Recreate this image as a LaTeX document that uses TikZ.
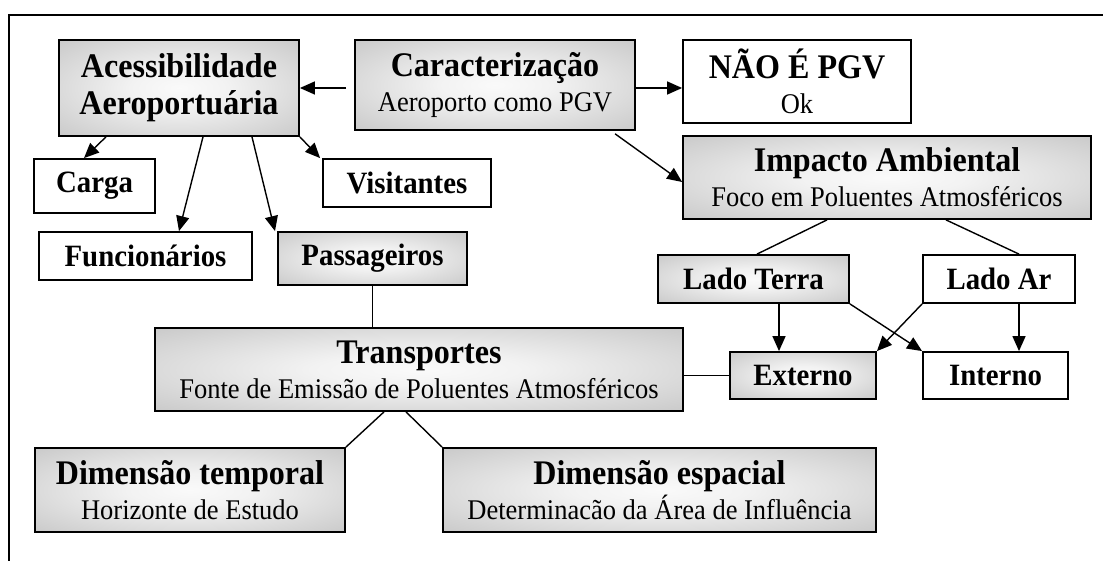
\documentclass[tikz,border=0pt]{standalone}
\usepackage{fontspec}
\setmainfont{Liberation Serif}[FakeStretch=0.93]
\usetikzlibrary{arrows.meta}
\pgfdeclareradialshading{boxglow}{\pgfpoint{0bp}{0bp}}{color(0bp)=(black!2); color(10bp)=(black!5); color(50bp)=(black!30); color(72bp)=(black!34)}
\newcommand\boxhead[1]{{\fontsize{34.5}{36}\selectfont\bfseries #1}}

\begin{document}
\begin{tikzpicture}[x=1pt, y=-1pt,
  gbox/.style={draw, line width=1.8pt, shading=boxglow, inner sep=0pt, align=center},
  wbox/.style={draw, line width=1.8pt, fill=white, inner sep=0pt, align=center},
  subfont/.style={font=\fontsize{28.5}{35}\selectfont},
  tagfont/.style={font=\fontsize{31}{34}\selectfont\bfseries},
  arr/.style={line width=1.4pt, -{Triangle[length=15pt,width=13pt]}},
  lnk/.style={line width=1.4pt}]
\useasboundingbox (0,0) rectangle (1103,561);
% frame
\draw[line width=2pt] (9,561) -- (9,15) -- (1103,15);

% top row
\node[gbox, minimum width=240, minimum height=96, font=\fontsize{34.5}{37}\selectfont\bfseries] (acess) at (179,88) {Acessibilidade\\Aeroportuária};
\node[gbox, subfont, minimum width=280, minimum height=90] (caract) at (495,85) {\boxhead{Caracterização}\\Aeroporto como PGV};
\node[wbox, subfont, minimum width=228, minimum height=83] (naopgv) at (797,81.5) {\boxhead{NÃO É PGV}\\Ok};
\node[gbox, subfont, minimum width=408, minimum height=83] (impacto) at (887,177.5) {\boxhead{Impacto Ambiental}\\Foco em Poluentes Atmosféricos};

% users
\node[wbox, tagfont, minimum width=121, minimum height=54] (carga) at (94.5,186) {Carga};
\node[wbox, tagfont, minimum width=168, minimum height=48] (visit) at (407,183) {Visitantes};
\node[wbox, tagfont, minimum width=213, minimum height=48] (func) at (145.5,256) {Funcionários};
\node[gbox, tagfont, minimum width=189, minimum height=53] (passag) at (372.5,258.5) {Passageiros};

% sides
\node[gbox, tagfont, minimum width=191, minimum height=48] (terra) at (753.5,279) {Lado Terra};
\node[wbox, tagfont, minimum width=152, minimum height=48] (ar) at (999,279) {Lado Ar};
\node[gbox, tagfont, minimum width=146, minimum height=47] (externo) at (803,375.5) {Externo};
\node[wbox, tagfont, minimum width=145, minimum height=47] (interno) at (995.5,375.5) {Interno};

% transport
\node[gbox, subfont, minimum width=528, minimum height=83] (transp) at (419,369.5) {\boxhead{Transportes}\\Fonte de Emissão de Poluentes Atmosféricos};
\node[gbox, subfont, minimum width=310, minimum height=84] (dimtemp) at (190,490) {\boxhead{Dimensão temporal}\\Horizonte de Estudo};
\node[gbox, subfont, minimum width=433, minimum height=84] (dimesp) at (659.5,490) {\boxhead{Dimensão espacial}\\Determinacão da Área de Influência};

% arrows
\draw[arr, shorten <=8pt] (caract.west |- acess.east) -- (acess.east);
\draw[arr] ([yshift=-3pt]caract.east) -- ([yshift=-3pt]caract.east -| naopgv.west);
\draw[arr, shorten <=5pt] ([xshift=116pt]caract.south) -- ([yshift=-4.5pt]impacto.west);
\draw[arr] ([xshift=-73pt]acess.south) -- ([xshift=-10.5pt]carga.north);
\draw[arr] ([xshift=24pt]acess.south) -- ([xshift=33.5pt]func.north);
\draw[arr] ([xshift=73pt]acess.south) -- ([xshift=-97.5pt]passag.north);
\draw[arr] (acess.south east) -- ([xshift=-2pt]visit.north west);
\draw[arr] ([xshift=25.5pt]terra.south) -- ([xshift=25.5pt]terra.south |- externo.north);
\draw[arr] ([xshift=20pt]ar.south) -- ([xshift=20pt]ar.south |- interno.north);
\draw[arr] (terra.south east) -- (interno.north west);
\draw[arr] (ar.south west) -- (externo.north east);

% plain links
\draw[lnk] (passag.south) -- (passag.south |- transp.north);
\draw[lnk] (externo.west -| transp.east) -- (externo.west);
\draw[lnk] ([xshift=-60pt]impacto.south) -- ([xshift=3.5pt]terra.north);
\draw[lnk] ([xshift=59pt]impacto.south) -- ([xshift=20pt]ar.north);
\draw[lnk] ([xshift=-35pt]transp.south) -- (dimtemp.north east);
\draw[lnk] ([xshift=-13pt]transp.south) -- (dimesp.north west);
\end{tikzpicture}
\end{document}
